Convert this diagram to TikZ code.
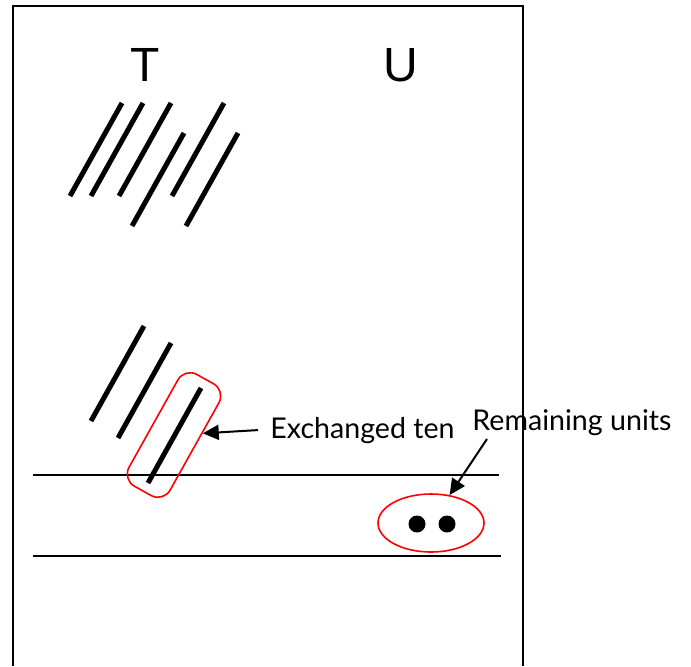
\documentclass[tikz,border=0pt]{standalone}
\usepackage{fontspec}
\setmainfont{Liberation Sans}
\newfontfamily\labelfont{Lato}
\usepackage{tikz}
\usetikzlibrary{arrows.meta, shapes.geometric}

\begin{document}
\begin{tikzpicture}[x=0.5pt, y=-0.5pt,
  stick/.style={line width=2.5pt},
  rule/.style={line width=1pt},
  ring/.style={draw=red, line width=0.8pt},
  dot/.style={circle, fill=black, inner sep=0pt, minimum size=8.5pt},
  arr/.style={line width=1pt, -{Triangle[length=8pt, width=7.5pt]}},
  lbl/.style={font=\labelfont\fontsize{14.3}{16}\selectfont, inner sep=0pt}]
\useasboundingbox (0,0) rectangle (691,666);
\draw[rule] (13,666) -- (13,6) -- (523,6) -- (523,666);
\node[font=\fontsize{24}{26}\selectfont] (T) at (145,65) {T};
\node[font=\fontsize{24}{26}\selectfont] (U) at (401,65) {U};
\foreach \x/\y in {122/103, 143/103, 171/103, 184/133, 224/103, 238/133}
  \draw[stick] (\x,\y) -- ++(-52,93);
\draw[stick] (144,326) -- ++(-53,95);
\draw[stick] (171,343) -- ++(-53,95);
\draw[stick] (201,388) -- (148,483);
\draw[rule] (33,475) -- (499,475);
\draw[rule] (33,556) -- (501,556);
\node[ring, rounded corners=7pt, rotate=60.8, minimum width=64pt, minimum height=23.5pt] (tenbox) at (174,435) {};
\node[ring, ellipse, minimum width=53pt, minimum height=29pt] (units) at (431,523) {};
\node[dot] (u1) at (417,524) {};
\node[dot] (u2) at (447,524) {};
\node[lbl, anchor=base west] (exch) at (270,438) {Exchanged ten};
\node[lbl, anchor=base west] (remain) at (472,430) {Remaining units};
\coordinate (remtail) at (487,439);
\draw[arr] ([xshift=-6pt]exch.west) -- (tenbox);
\draw[arr] (remtail) -- (units);
\end{tikzpicture}
\end{document}
